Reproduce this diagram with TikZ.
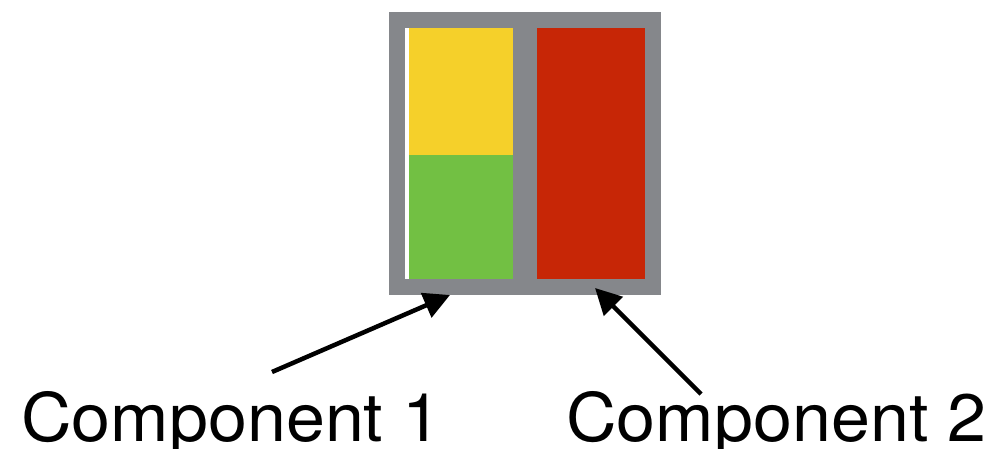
\documentclass[tikz,border=0pt]{standalone}
\usepackage{fontspec}
\setmainfont[FakeStretch=1.045]{TeX Gyre Heros}
\usetikzlibrary{arrows.meta}
\definecolor{frame}{HTML}{85878B}
\definecolor{yel}{HTML}{F5D02A}
\definecolor{grn}{HTML}{72C043}
\definecolor{rd}{HTML}{C72606}
\tikzset{
  lbl/.style={anchor=base west, inner sep=0pt, font=\fontsize{67}{70}\selectfont},
  pointer/.style={line width=4.5pt, -{Triangle[length=26pt,width=26pt]}},
}
\begin{document}
\begin{tikzpicture}[x=1pt,y=-1pt]
\useasboundingbox (0,0) rectangle (993,449);
\fill[frame] (389,12) rectangle (661,295);
\fill[white] (405,28) rectangle (409,279);
\fill[yel] (409,28) rectangle (513,155);
\fill[grn] (409,155) rectangle (513,279);
\fill[rd] (537,28) rectangle (645,279);
\node[lbl] (c1) at (21,441) {Component 1};
\node[lbl] (c2) at (566,441) {Component 2};
\coordinate (s1) at (272,372);
\coordinate (t1) at (450,295);
\coordinate (s2) at (701,394);
\coordinate (t2) at (595,288);
\draw[pointer] (s1) -- (t1);
\draw[pointer] (s2) -- (t2);
\end{tikzpicture}
\end{document}
